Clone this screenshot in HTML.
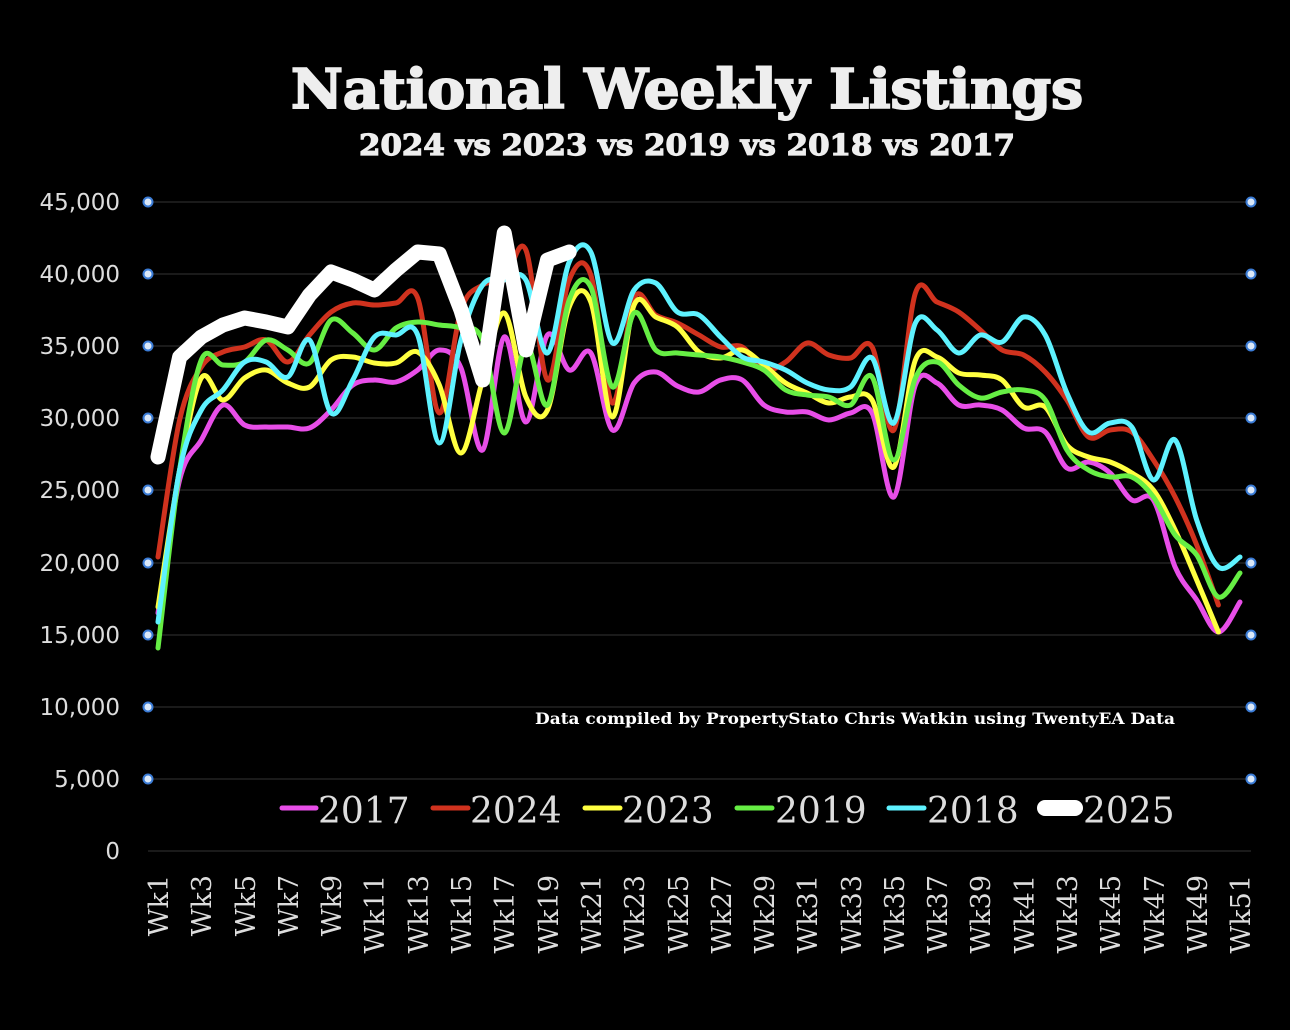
<!DOCTYPE html>
<html><head><meta charset="utf-8"><style>
html,body{margin:0;padding:0;background:#000;width:1290px;height:1030px;overflow:hidden}
svg{display:block}
.yl{font-family:"DejaVu Sans","Liberation Sans",sans-serif;font-size:23px;fill:#ddd;text-anchor:end}
.xl{font-family:"DejaVu Serif","Liberation Serif",serif;font-size:27px;fill:#ddd;text-anchor:end}
.lg{font-family:"DejaVu Serif","Liberation Serif",serif;font-size:36px;fill:#ddd}
</style></head><body>
<svg id="s" width="1290" height="1030" viewBox="0 0 1290 1030" xmlns="http://www.w3.org/2000/svg">
<rect width="1290" height="1030" fill="#000"/>
<text x="687" y="108" text-anchor="middle" font-family="DejaVu Serif,serif" font-weight="bold" font-size="54" fill="#eee" stroke="#eee" stroke-width="2" textLength="792" lengthAdjust="spacingAndGlyphs">National Weekly Listings</text>
<text x="687" y="155" text-anchor="middle" font-family="DejaVu Serif,serif" font-weight="bold" font-size="29" fill="#eee" stroke="#eee" stroke-width="1.2" textLength="656" lengthAdjust="spacingAndGlyphs">2024 vs 2023 vs 2019 vs 2018 vs 2017</text>
<g stroke="#222" stroke-width="1.5">
<line x1="148" x2="1251" y1="202" y2="202"/><line x1="148" x2="1251" y1="274" y2="274"/><line x1="148" x2="1251" y1="346" y2="346"/><line x1="148" x2="1251" y1="418" y2="418"/><line x1="148" x2="1251" y1="490" y2="490"/><line x1="148" x2="1251" y1="563" y2="563"/><line x1="148" x2="1251" y1="635" y2="635"/><line x1="148" x2="1251" y1="707" y2="707"/><line x1="148" x2="1251" y1="779" y2="779"/><line x1="148" x2="1251" y1="851" y2="851"/>
</g>
<g class="yl">
<text x="120" y="210">45,000</text><text x="120" y="282">40,000</text><text x="120" y="354">35,000</text><text x="120" y="426">30,000</text><text x="120" y="498">25,000</text><text x="120" y="571">20,000</text><text x="120" y="643">15,000</text><text x="120" y="715">10,000</text><text x="120" y="787">5,000</text><text x="120" y="859">0</text>
</g>
<g id="dots" fill="#dbe8f8" stroke="#3a7bd5" stroke-width="2"></g>
<text x="535" y="724" font-family="DejaVu Serif,serif" font-weight="bold" font-size="16" fill="#fff" textLength="640" lengthAdjust="spacingAndGlyphs">Data compiled by PropertyStato Chris Watkin using TwentyEA Data</text>
<g id="lines" fill="none" stroke-linecap="round" stroke-linejoin="round"></g>
<g class="xl">
<text transform="translate(168,875) rotate(-90)">Wk1</text>
<text transform="translate(211,875) rotate(-90)">Wk3</text>
<text transform="translate(255,875) rotate(-90)">Wk5</text>
<text transform="translate(298,875) rotate(-90)">Wk7</text>
<text transform="translate(341,875) rotate(-90)">Wk9</text>
<text transform="translate(384,875) rotate(-90)">Wk11</text>
<text transform="translate(428,875) rotate(-90)">Wk13</text>
<text transform="translate(471,875) rotate(-90)">Wk15</text>
<text transform="translate(514,875) rotate(-90)">Wk17</text>
<text transform="translate(558,875) rotate(-90)">Wk19</text>
<text transform="translate(601,875) rotate(-90)">Wk21</text>
<text transform="translate(644,875) rotate(-90)">Wk23</text>
<text transform="translate(688,875) rotate(-90)">Wk25</text>
<text transform="translate(731,875) rotate(-90)">Wk27</text>
<text transform="translate(774,875) rotate(-90)">Wk29</text>
<text transform="translate(817,875) rotate(-90)">Wk31</text>
<text transform="translate(861,875) rotate(-90)">Wk33</text>
<text transform="translate(904,875) rotate(-90)">Wk35</text>
<text transform="translate(947,875) rotate(-90)">Wk37</text>
<text transform="translate(990,875) rotate(-90)">Wk39</text>
<text transform="translate(1034,875) rotate(-90)">Wk41</text>
<text transform="translate(1077,875) rotate(-90)">Wk43</text>
<text transform="translate(1120,875) rotate(-90)">Wk45</text>
<text transform="translate(1164,875) rotate(-90)">Wk47</text>
<text transform="translate(1207,875) rotate(-90)">Wk49</text>
<text transform="translate(1250,875) rotate(-90)">Wk51</text>
</g>
<g stroke-linecap="round">
<line x1="282" y1="808" x2="316" y2="808" stroke="#e84ee8" stroke-width="5"/>
<line x1="433" y1="808" x2="468" y2="808" stroke="#d0321e" stroke-width="5"/>
<line x1="585" y1="808" x2="620" y2="808" stroke="#ffff40" stroke-width="5"/>
<line x1="737" y1="808" x2="772" y2="808" stroke="#66ee44" stroke-width="5"/>
<line x1="889" y1="808" x2="924" y2="808" stroke="#5ef2ff" stroke-width="5"/>
<line x1="1045" y1="808" x2="1075" y2="808" stroke="#fff" stroke-width="16"/>
</g>
<g class="lg">
<text x="318" y="823">2017</text><text x="470" y="823">2024</text><text x="622" y="823">2023</text><text x="775" y="823">2019</text><text x="927" y="823">2018</text><text x="1083" y="823">2025</text>
</g>
</svg>
<script>
(function(){
var NS="http://www.w3.org/2000/svg";
function X(i){return 158+(i-1)*21.64;}
function path(ys,smooth){
 var p=ys.map(function(y,i){return [X(i+1),y];});
 var d="M"+p[0][0]+","+p[0][1];
 if(!smooth){for(var i=1;i<p.length;i++)d+=" L"+p[i][0]+","+p[i][1];return d;}
 for(var i=0;i<p.length-1;i++){
  var p0=p[i-1]||p[i],p1=p[i],p2=p[i+1],p3=p[i+2]||p2;
  var t=0.5/3;
  var c1x=p1[0]+(p2[0]-p0[0])*t,c1y=p1[1]+(p2[1]-p0[1])*t;
  var c2x=p2[0]-(p3[0]-p1[0])*t,c2y=p2[1]-(p3[1]-p1[1])*t;
  d+=" C"+c1x.toFixed(1)+","+c1y.toFixed(1)+" "+c2x.toFixed(1)+","+c2y.toFixed(1)+" "+p2[0].toFixed(1)+","+p2[1];
 }
 return d;
}
var series=[
 ["#e84ee8",5,true,[613,480,440,405,425,427,427,428,410,385,380,382,370,350,368,450,337,422,335,370,353,430,383,372,386,392,380,380,405,412,412,420,413,413,497,385,383,405,405,410,428,432,468,462,473,500,500,567,600,632,602]],
 ["#d0321e",5,true,[557,420,367,352,347,340,362,335,312,303,305,303,298,413,310,285,280,250,380,280,275,403,298,315,323,335,347,347,370,362,343,355,358,347,430,293,302,312,330,350,355,372,400,437,430,432,460,497,545,605]],
 ["#ffff40",5,true,[607,470,378,400,378,370,383,387,360,357,363,363,352,385,453,380,313,397,410,307,302,417,305,317,327,352,358,350,365,383,393,403,397,400,467,360,357,373,375,380,407,407,445,457,462,473,490,530,580,632]],
 ["#66ee44",5,true,[648,470,360,365,362,340,350,363,320,333,350,328,322,325,328,340,433,345,405,300,287,387,313,350,353,355,357,362,370,390,395,397,405,377,460,378,362,385,398,392,390,400,450,470,477,477,497,535,555,597,573]],
 ["#5ef2ff",5,true,[622,470,410,390,362,362,377,340,413,380,337,335,335,443,340,285,280,280,353,262,252,343,290,283,312,315,337,357,362,370,383,390,387,358,423,323,330,353,335,342,317,335,393,432,423,427,480,440,520,567,557]],
 ["#ffffff",15,false,[457,357,337,325,318,322,327,295,272,280,290,270,252,254,310,380,233,350,260,252]]
];
var g=document.getElementById("lines");
series.forEach(function(s){
 var e=document.createElementNS(NS,"path");
 e.setAttribute("d",path(s[3],s[2]));e.setAttribute("stroke",s[0]);e.setAttribute("stroke-width",s[1]);
 g.appendChild(e);
});
var dg=document.getElementById("dots");
[202,274,346,418,490,563,635,707,779].forEach(function(y){
 [148,1251].forEach(function(x){var c=document.createElementNS(NS,"circle");c.setAttribute("cx",x);c.setAttribute("cy",y);c.setAttribute("r",4.5);dg.appendChild(c);});
});
})();
</script>
</body></html>
